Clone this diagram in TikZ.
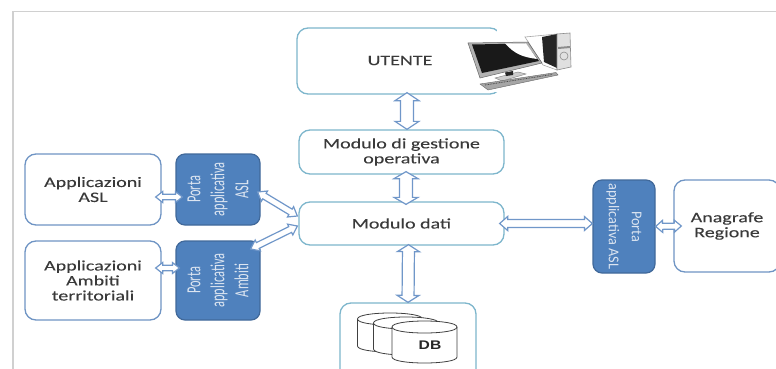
\documentclass[tikz,border=0pt]{standalone}
\usepackage{fontspec}
\setmainfont[FakeStretch=1.38,FakeBold=0.12]{Carlito}
\newfontfamily\narrowfont[FakeStretch=0.62]{Carlito}
\newfontfamily\regfont[FakeStretch=0.95]{Carlito}
\newfontfamily\dbfont[FakeStretch=1.25]{Liberation Sans}
\usetikzlibrary{calc}
\definecolor{tealedge}{HTML}{7DB6CC}
\definecolor{blueedge}{HTML}{6F94C4}
\definecolor{linkedge}{HTML}{7097C9}
\definecolor{portafill}{HTML}{4F81BD}
\definecolor{portaedge}{HTML}{41699A}
\definecolor{labelgrey}{HTML}{3A3A3A}
\definecolor{portatext}{HTML}{DCE5F1}
\definecolor{framegrey}{HTML}{D0D0D0}
\tikzset{
  basebox/.style={draw,line width=1.3pt,fill=white,rounded corners=11pt,inner sep=0pt,align=center,text=labelgrey,font=\fontsize{14.5}{15}\selectfont},
  tealbox/.style={basebox,draw=tealedge},
  bluebox/.style={basebox,draw=blueedge},
  portabox/.style={draw=portaedge,line width=1.2pt,fill=portafill,rounded corners=9pt,inner sep=0pt,align=center,text=portatext,font=\narrowfont\fontsize{20}{24}\selectfont},
  regbox/.style={portabox,font=\regfont\fontsize{15}{23}\selectfont},
  link/.style={draw=linkedge,line width=1.2pt,fill=white,line join=miter},
  framerule/.style={draw=framegrey,line width=1.2pt},
  cyl/.style={draw=black!75,line width=.8pt,fill=white},
}
% #1 start, #2 end, #3 shaft half-width, #4 head half-width, #5 head length
\newcommand{\blockarrow}[5]{%
  \coordinate (ba) at #1;
  \coordinate (bb) at #2;
  \coordinate (bc) at ($(ba)!#5pt!(bb)$);
  \coordinate (bd) at ($(bb)!#5pt!(ba)$);
  \draw[link] (ba) -- ($(bc)!#4pt!90:(bb)$) -- ($(bc)!#3pt!90:(bb)$)
    -- ($(bd)!#3pt!-90:(ba)$) -- ($(bd)!#4pt!-90:(ba)$) -- (bb)
    -- ($(bd)!#4pt!90:(ba)$) -- ($(bd)!#3pt!90:(ba)$)
    -- ($(bc)!#3pt!-90:(bb)$) -- ($(bc)!#4pt!-90:(bb)$) -- cycle;
}
\begin{document}
\begin{tikzpicture}[x=1pt,y=-1pt]
\useasboundingbox (0,0) rectangle (776,369);
\clip (0,0) rectangle (776,369);
\fill[white] (0,0) rectangle (776,369);
\draw[framerule] (13,11.5) -- (776,11.5);
\draw[framerule] (13,11.5) -- (13,369);

\node[tealbox,minimum width=204pt,minimum height=66pt] (utente) at (399,61) {};
\node[text=labelgrey,font=\fontsize{14.5}{15}\selectfont] (utentetxt) at (400,60.5) {UTENTE};
\node[tealbox,minimum width=205pt,minimum height=44pt] (gestione) at (401.5,152) {Modulo di gestione\\operativa};
\node[tealbox,minimum width=205pt,minimum height=43pt] (dati) at (401.5,223.5) {Modulo dati};
\node[tealbox,minimum width=136pt,minimum height=82pt] (dbbox) at (408,344) {};

\node[bluebox,minimum width=136pt,minimum height=71pt] (applasl) at (93,189.5) {Applicazioni\\ASL};
\node[bluebox,minimum width=136pt,minimum height=79pt] (applamb) at (93,280.5) {Applicazioni\\Ambiti\\territoriali};
\node[bluebox,minimum width=106pt,minimum height=92pt] (anagrafe) at (727,226) {Anagrafe\\Regione};

\node[portabox,rotate=90,minimum width=71pt,minimum height=84pt] (portaasl) at (218,189.5) {Porta\\applicativa\\ASL};
\node[portabox,rotate=90,minimum width=79pt,minimum height=84pt] (portaamb) at (218,280.5) {Porta\\applicativa\\Ambiti};
\node[regbox,rotate=-90,minimum width=93pt,minimum height=62pt] (portareg) at (624,226.5) {Porta\\applicativa ASL};

% computer
\fill[white] (497,26) rectangle (576,92);
\fill[white] (466,36) rectangle (497,92);
\fill[white,draw=black!35,line width=.6pt] (525,37) -- (557,34) -- (557,70) -- (543,65) -- cycle;
\fill[black!85] (542,37) -- (557,34) -- (557,68) -- (544,62) -- cycle;
\fill[black!12,draw=black!45,line width=.6pt] (557,34) -- (570,33) -- (571,67) -- (557,70) -- cycle;
\fill[black!45] (558,47) -- (570,46) -- (570,48) -- (558,49) -- cycle;
\draw[black!45,line width=.6pt] (564,56) circle[radius=4pt];
\fill[black!30,draw=black!60,line width=.5pt] (468,43) -- (528,42) -- (542,63) -- (480,78) -- cycle;
\fill[black!90] (472,44.5) -- (525,43.5) -- (539,61) -- (482,73) -- cycle;
\fill[white] (505,43.5) .. controls (515,54) and (522,57) .. (537,59) -- (526,43.5) -- cycle;
\fill[black!20,draw=black!50,line width=.4pt] (495,78) -- (518,72) -- (526,74) -- (502,81) -- cycle;
\fill[black!85] (505,72.5) -- (513,71) -- (513,75) -- (506,76) -- cycle;
\fill[black!35,draw=black!60,line width=.4pt] (480,84) -- (556,72.5) -- (558,75) -- (488,90) -- cycle;
\draw[black!70,line width=.9pt,dash pattern=on .8pt off .8pt] (485,85) -- (552,74.5);

% database cylinders
\foreach \cx/\cy/\cb in {390/319/346, 406/323/349, 424.5/327/357}{
  \draw[cyl] (\cx-32.5,\cy) -- (\cx-32.5,\cb) .. controls (\cx-32.5,\cb+8) and (\cx+32.5,\cb+8) .. (\cx+32.5,\cb) -- (\cx+32.5,\cy) .. controls (\cx+32.5,\cy-8) and (\cx-32.5,\cy-8) .. (\cx-32.5,\cy) -- cycle;
  \draw[black!75,line width=.8pt] (\cx-32.5,\cy) .. controls (\cx-32.5,\cy+8) and (\cx+32.5,\cy+8) .. (\cx+32.5,\cy);
}
\node[text=black!85,font=\dbfont\bfseries\fontsize{12.5}{14}\selectfont] (dblabel) at (430,345) {DB};

% connectors
\blockarrow{([xshift=8pt,yshift=2pt]utente.south)}{([xshift=5.5pt]gestione.north)}{6.5}{12}{8}
\blockarrow{([xshift=4.5pt,yshift=3pt]gestione.south)}{([xshift=4.5pt,yshift=-3pt]dati.north)}{6.5}{12}{7}
\blockarrow{([xshift=7pt,yshift=1pt]dati.south)}{(dbbox.north)}{6}{11}{7}
\blockarrow{([xshift=-5pt]dati.east)}{([yshift=3pt]portareg.south)}{4}{7}{8}
\blockarrow{(portareg.north)}{([xshift=8pt]anagrafe.west)}{3}{6}{7}
\blockarrow{([xshift=-6pt,yshift=-7.5pt]applasl.east)}{([xshift=7pt,yshift=-7.5pt]portaasl.north)}{2.7}{5.5}{7}
\blockarrow{([xshift=-6pt,yshift=12.5pt]applamb.east)}{([xshift=4pt,yshift=12.5pt]portaamb.north)}{2.7}{5.5}{7}
\blockarrow{([xshift=-3pt,yshift=-2.5pt]portaasl.south)}{([xshift=-1pt,yshift=7.5pt]dati.west)}{3.2}{6}{8}
\blockarrow{([xshift=-10pt,yshift=31.5pt]portaamb.south)}{([xshift=-1pt,yshift=-2.5pt]dati.west)}{3.2}{6}{8}
\end{tikzpicture}
\end{document}
